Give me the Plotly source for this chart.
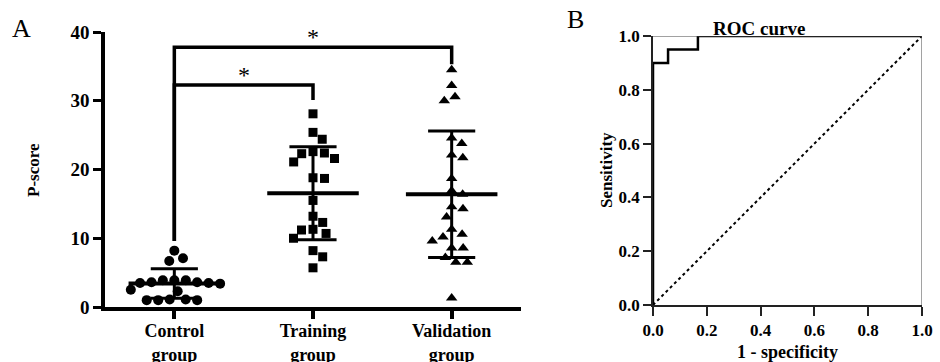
import numpy as np
import plotly.graph_objects as go

# ---------------- data ----------------
categories = ["Control<br>group", "Training<br>group", "Validation<br>group"]
control = [8.2, 6.7, 7.1, 3.9, 3.9, 3.6, 3.5, 3.4, 3.5, 3.6, 3.9, 2.5, 2.3,
           1.1, 1.0, 1.0, 1.0, 1.1]
training = [28.1, 25.4, 24.4, 22.6, 22.3, 22.4, 21.6, 21.1, 18.8, 18.7, 15.5,
            13.2, 12.3, 11.3, 11.2, 10.7, 10.0, 8.2, 7.3, 5.7]
validation = [34.5, 32.2, 30.6, 30.0, 24.6, 23.8, 22.1, 21.7, 18.7, 16.9, 16.4,
              14.6, 14.3, 13.1, 11.3, 10.6, 10.2, 9.6, 8.6, 8.6, 7.2, 6.5, 6.5, 1.3]
y_ticks = [0, 10, 20, 30, 40]

roc_fpr = [0.0, 0.0, 0.056, 0.056, 0.167, 0.167, 1.0]
roc_tpr = [0.0, 0.9, 0.9, 0.95, 0.95, 1.0, 1.0]
roc_ticks = [0.0, 0.2, 0.4, 0.6, 0.8, 1.0]

# significance brackets: (from group, to group, bar level, left foot, right foot)
brackets = [(0, 2, 37.8, 9.6, 35.3), (0, 1, 32.3, 9.6, 30.1)]

# ---------------- layout geometry ----------------
W, H = 940, 362
L_X0, L_X1, L_Y0, L_Y1 = 105, 521, 307, 32
R_X0, R_X1, R_Y0, R_Y1 = 653, 922, 305, 36
Y_RANGE = [0, 40]
X_RANGE = [-0.5, 2.5]
ppu_y = (L_Y0 - L_Y1) / (Y_RANGE[1] - Y_RANGE[0])
ppu_x = (L_X1 - L_X0) / (X_RANGE[1] - X_RANGE[0])

FONT = "Liberation Serif"


def beeswarm(vals, d_px):
    vals = np.asarray(vals, float)
    order = np.argsort(-vals, kind="stable")
    placed = []
    xs = np.zeros(len(vals))
    for i in order:
        y = vals[i] * ppu_y
        cands = [0.0]
        for (yj, xj) in placed:
            dy = abs(y - yj)
            if dy < d_px:
                dx = np.sqrt(d_px ** 2 - dy ** 2)
                cands += [xj + dx, xj - dx]
        cands = sorted(cands, key=lambda c: (abs(c), -c))
        for c in cands:
            if all(np.hypot(c - xj, y - yj) >= d_px - 1e-6 for (yj, xj) in placed):
                xs[i] = c
                placed.append((y, c))
                break
    return xs / ppu_x


fig = go.Figure()

groups = [(control, "circle", 10), (training, "square", 9), (validation, "triangle-up", 10)]
for gi, (vals, sym, size) in enumerate(groups):
    offs = beeswarm(vals, 11.5)
    fig.add_trace(go.Scatter(
        x=gi + offs, y=vals, mode="markers", xaxis="x", yaxis="y",
        marker=dict(symbol=sym, size=size, color="black", line=dict(width=0)),
        showlegend=False, cliponaxis=False))
    m = float(np.mean(vals))
    s = float(np.std(vals, ddof=1))
    fig.add_trace(go.Scatter(x=[gi - 0.33, gi + 0.33], y=[m, m], mode="lines",
                             line=dict(color="black", width=4), showlegend=False,
                             xaxis="x", yaxis="y", cliponaxis=False))
    fig.add_trace(go.Scatter(
        x=[gi, gi, None, gi - 0.17, gi + 0.17, None, gi - 0.17, gi + 0.17],
        y=[max(m - s, 0), m + s, None, m + s, m + s, None, m - s, m - s],
        mode="lines", line=dict(color="black", width=3), showlegend=False,
        xaxis="x", yaxis="y", cliponaxis=False))

for (a, b, lvl, fa, fb) in brackets:
    fig.add_trace(go.Scatter(x=[a, a, b, b], y=[fa, lvl, lvl, fb], mode="lines",
                             line=dict(color="black", width=3.5), showlegend=False,
                             xaxis="x", yaxis="y", cliponaxis=False))
    fig.add_annotation(x=(a + b) / 2, y=lvl - 0.7, xref="x", yref="y", text="*",
                       showarrow=False, xanchor="center", yanchor="bottom",
                       font=dict(family=FONT, size=24, color="black"))

# ROC
fig.add_trace(go.Scatter(x=[0, 1], y=[0, 1], mode="lines", xaxis="x2", yaxis="y2",
                         line=dict(color="black", width=2, dash="dot"),
                         showlegend=False, cliponaxis=False))
fig.add_trace(go.Scatter(x=roc_fpr, y=roc_tpr, mode="lines", xaxis="x2", yaxis="y2",
                         line=dict(color="black", width=2.5), showlegend=False,
                         cliponaxis=False))
fig.add_shape(type="line", xref="x2", yref="y2", x0=0, x1=1, y0=1, y1=1,
              line=dict(color="#444", width=1))
fig.add_shape(type="line", xref="x2", yref="y2", x0=1, x1=1, y0=0, y1=1,
              line=dict(color="#444", width=1))

fig.update_layout(
    width=W, height=H, margin=dict(l=0, r=0, t=0, b=0, autoexpand=False),
    paper_bgcolor="white", plot_bgcolor="white", hovermode=False,
    xaxis=dict(domain=[L_X0 / W, L_X1 / W], range=X_RANGE, tickvals=[0, 1, 2],
               ticktext=categories, showgrid=False, zeroline=False, automargin=False,
               showline=True, linecolor="black", linewidth=3.5,
               ticks="outside", ticklen=8, tickwidth=3.5, tickcolor="black",
               ticklabelstandoff=-3,
               tickfont=dict(family=FONT, size=18, color="black", weight="bold")),
    yaxis=dict(domain=[1 - L_Y0 / H, 1 - L_Y1 / H], range=Y_RANGE, tickvals=y_ticks,
               showgrid=False, zeroline=False, showline=True, linecolor="black",
               automargin=False,
               linewidth=3.5, ticks="outside", ticklen=8, tickwidth=3, tickcolor="black",
               tickfont=dict(family=FONT, size=19, color="black", weight="bold")),
    xaxis2=dict(domain=[R_X0 / W, R_X1 / W], range=[0, 1], tickvals=roc_ticks,
                tickformat=".1f", showgrid=False, zeroline=False, showline=True,
                automargin=False,
                linecolor="#222", linewidth=1.5, ticks="outside", ticklen=9,
                tickwidth=1.5, tickcolor="#222", anchor="y2",
                tickfont=dict(family=FONT, size=17, color="black", weight="bold")),
    yaxis2=dict(domain=[1 - R_Y0 / H, 1 - R_Y1 / H], range=[0, 1], tickvals=roc_ticks,
                tickformat=".1f", showgrid=False, zeroline=False, showline=True,
                automargin=False,
                linecolor="#222", linewidth=1.5, ticks="outside", ticklen=8,
                tickwidth=1.5, tickcolor="#222", anchor="x2",
                tickfont=dict(family=FONT, size=17, color="black", weight="bold")),
)

ann_font = dict(family=FONT, color="black")


def label(x, y, text, size, angle=0):
    fig.add_annotation(x=x / W, y=1 - y / H, xref="paper", yref="paper", text=text,
                       textangle=angle, showarrow=False, xanchor="center",
                       yanchor="middle", font=dict(**ann_font, size=size))


label(33, 170, "<b>P-score</b>", 17, -90)
label(606, 170, "<b>Sensitivity</b>", 17, -90)
label(787, 352, "<b>1 - specificity</b>", 18)
label(759, 28, "<b>ROC curve</b>", 19)
label(21, 29, "A", 26)
label(575, 20, "B", 26)

fig.write_html("out.html", config={"displayModeBar": False},
               post_script="document.body.style.margin='0px';")
